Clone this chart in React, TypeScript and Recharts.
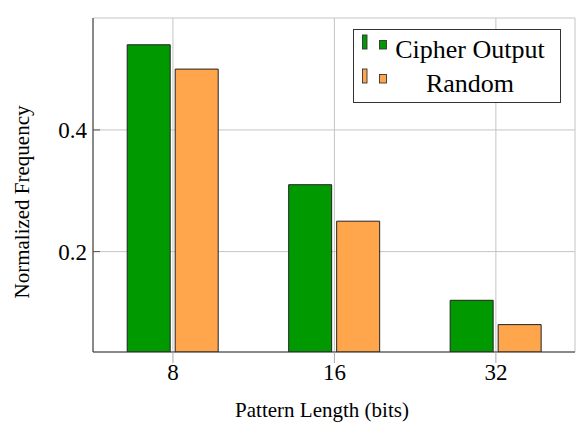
import React from 'react';
import { BarChart, Bar, XAxis, YAxis, CartesianGrid, Legend } from 'recharts';

const categories = ['8', '16', '32'];
const cipherOutput = [0.54, 0.31, 0.12];
const randomValues = [0.5, 0.25, 0.08];
const yTicks = [0.2, 0.4];
const seriesNames = ['Cipher Output', 'Random'];
const seriesColors = ['#009900', '#FFA64D'];

const xIndex = categories.map((_, i) => i);
const data = categories.map((c, i) => ({ x: i, cipher: cipherOutput[i], random: randomValues[i] }));

const FONT = '"Liberation Serif", "Times New Roman", serif';
const FRAME = '#333333';
const GRID = '#c4c4c4';

const LeftTick = (props: any) => {
  const { x, y, payload } = props;
  return (
    <g>
      <line x1={x + 6} x2={x + 13} y1={y} y2={y} stroke="#555" strokeWidth={1} />
      <text x={x} y={y} dy="0.35em" textAnchor="end" fontFamily={FONT} fontSize={23} fill="#000">
        {payload.value.toFixed(1)}
      </text>
    </g>
  );
};

const RightTick = (props: any) => {
  const { x, y } = props;
  return <line x1={x} x2={x - 7} y1={y} y2={y} stroke="#555" strokeWidth={1} />;
};

const YLabel = (props: any) => {
  const vb = props.viewBox || {};
  const cx = 22;
  const cy = vb.y + vb.height / 2 + 17;
  return (
    <text x={cx} y={cy} transform={`rotate(-90 ${cx} ${cy})`} textAnchor="middle" dy="0.35em" fontFamily={FONT} fontSize={21} fill="#000">
      Normalized Frequency
    </text>
  );
};

const XLabel = (props: any) => {
  const vb = props.viewBox || {};
  const cx = vb.x + vb.width / 2 - 12;
  return (
    <text x={cx} y={vb.y + 58} textAnchor="middle" dy="0.35em" fontFamily={FONT} fontSize={21} fill="#000">
      Pattern Length (bits)
    </text>
  );
};

const LegendBox = () => {
  const rows = seriesNames.map((name, i) => {
    const cy = 19 + 34 * i;
    const bottom = cy;
    return (
      <g key={name}>
        <rect x={8.5} y={bottom - 14} width={4.5} height={14} fill={seriesColors[i]} stroke="#333" strokeWidth={0.9} />
        <rect x={25.5} y={bottom - 8.5} width={7} height={8.5} fill={seriesColors[i]} stroke="#333" strokeWidth={0.9} />
        <text x={116} y={cy} dy="0.35em" textAnchor="middle" fontFamily={FONT} fontSize={26} fill="#000">
          {name}
        </text>
      </g>
    );
  });
  return (
    <div style={{ width: 208, height: 74, border: `1px solid ${FRAME}`, background: '#fff', boxSizing: 'border-box' }}>
      <svg width={206} height={72} style={{ display: 'block' }}>
        {rows}
      </svg>
    </div>
  );
};

export default function App() {
  return (
    <div style={{ position: 'absolute', left: 0, top: 0, width: 576, height: 430, background: '#fff' }}>
      <BarChart
        width={576}
        height={430}
        data={data}
        margin={{ top: 18, right: 1, left: 0, bottom: 0 }}
        barSize={43}
        barGap={5}
      >
        <CartesianGrid stroke={GRID} strokeWidth={1} />
        <XAxis
          dataKey="x"
          type="number"
          domain={[-0.495, 2.49]}
          ticks={xIndex}
          allowDataOverflow
          height={78}
          tickSize={11}
          tickMargin={1}
          tickLine={{ stroke: '#aaaaaa' }}
          axisLine={{ stroke: FRAME }}
          tickFormatter={(v: number) => categories[v] ?? ''}
          tick={{ fontFamily: FONT, fontSize: 23, fill: '#000' }}
          label={<XLabel />}
        />
        <XAxis
          xAxisId="top"
          dataKey="x"
          type="number"
          orientation="top"
          domain={[-0.495, 2.49]}
          ticks={xIndex}
          allowDataOverflow
          height={0}
          tickSize={18}
          tickLine={{ stroke: '#aaaaaa' }}
          axisLine={{ stroke: FRAME }}
          tickFormatter={() => ''}
        />
        <YAxis
          type="number"
          domain={[0.035, 0.584]}
          ticks={yTicks}
          allowDataOverflow
          width={93}
          tickSize={0}
          tickMargin={6}
          axisLine={{ stroke: FRAME }}
          tick={<LeftTick />}
          label={<YLabel />}
        />
        <YAxis
          yAxisId="right"
          orientation="right"
          type="number"
          domain={[0.035, 0.584]}
          ticks={yTicks}
          allowDataOverflow
          width={0}
          tickSize={0}
          tickMargin={0}
          axisLine={{ stroke: FRAME }}
          tick={<RightTick />}
        />
        <Legend
          layout="horizontal"
          verticalAlign="middle"
          align="center"
          content={<LegendBox />}
          wrapperStyle={{ position: 'absolute', left: 353, top: 29, width: 208, height: 74 }}
        />
        <Bar dataKey="cipher" name={seriesNames[0]} fill={seriesColors[0]} stroke="#222" strokeWidth={1} isAnimationActive={false} />
        <Bar dataKey="random" name={seriesNames[1]} fill={seriesColors[1]} stroke="#222" strokeWidth={1} isAnimationActive={false} />
      </BarChart>
    </div>
  );
}
